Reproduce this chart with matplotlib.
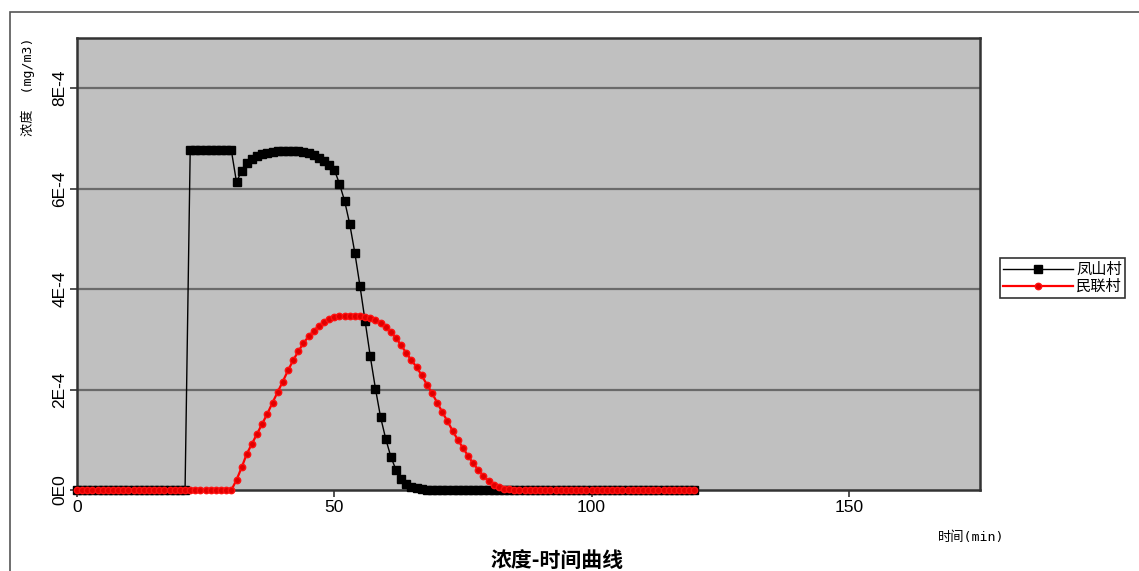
import matplotlib
matplotlib.use("Agg")
import matplotlib.pyplot as plt
from matplotlib.patches import Rectangle

plt.rcParams['font.family'] = ['Liberation Sans Narrow', 'Liberation Sans', 'Noto Sans CJK SC', 'DejaVu Sans']

# time axis, one sample per minute (0 .. 120 min)
minutes = list(range(0, 121))

# concentration at 凤山村 (units of 1E-4 mg/m3)
fengshan_e4 = (
    [0.0] * 22
    + [6.76, 6.76, 6.76, 6.76, 6.76, 6.76, 6.76, 6.76, 6.76,          # 22-30
       6.13, 6.36, 6.52, 6.60, 6.66, 6.70, 6.72, 6.74, 6.75,           # 31-39
       6.75, 6.75, 6.75, 6.75, 6.74, 6.72, 6.68, 6.62, 6.55, 6.48,     # 40-49
       6.38, 6.10, 5.76, 5.30, 4.72, 4.06, 3.36, 2.66, 2.02, 1.45,     # 50-59
       1.02, 0.66, 0.40, 0.22, 0.12, 0.06, 0.03, 0.01]                 # 60-67
    + [0.0] * 53
)

# concentration at 民联村 (units of 1E-4 mg/m3)
minlian_e4 = (
    [0.0] * 31
    + [0.20, 0.45, 0.72, 0.92, 1.12, 1.32, 1.52, 1.74, 1.95,           # 31-39
       2.16, 2.38, 2.58, 2.76, 2.92, 3.06, 3.17, 3.27, 3.35, 3.40,     # 40-49
       3.44, 3.46, 3.47, 3.47, 3.47, 3.46, 3.45, 3.42, 3.38, 3.32,     # 50-59
       3.24, 3.14, 3.03, 2.88, 2.73, 2.58, 2.45, 2.28, 2.10, 1.93,     # 60-69
       1.74, 1.55, 1.37, 1.18, 1.00, 0.84, 0.68, 0.53, 0.40, 0.28,     # 70-79
       0.18, 0.10, 0.05, 0.02, 0.01]                                   # 80-84
    + [0.0] * 36
)

series_names = ['凤山村', '民联村']
y_tick_values = [0, 2e-4, 4e-4, 6e-4, 8e-4]
y_tick_labels = ['0E0', '2E-4', '4E-4', '6E-4', '8E-4']
x_tick_values = [0, 50, 100, 150]

fengshan = [v * 1e-4 for v in fengshan_e4]
minlian = [v * 1e-4 for v in minlian_e4]

W, H = 1139, 571
fig = plt.figure(figsize=(W / 100, H / 100), dpi=100)
fig.patch.set_facecolor('white')

# outer chart frame
fig.patches.append(Rectangle((10 / W, -0.05), 1.2, 1 - 12 / H + 0.05,
                             transform=fig.transFigure, fill=False,
                             edgecolor='#555555', linewidth=1.2))

ax = fig.add_axes([77 / W, 1 - 490 / H, (980 - 77) / W, (490 - 38) / H])
ax.set_facecolor('#c0c0c0')
ax.set_xlim(0, 175.5)
ax.set_ylim(0, 9e-4)

for yv in y_tick_values[1:]:
    ax.axhline(yv, color='#6a6a6a', linewidth=1.6, zorder=1)

ax.plot(minutes, fengshan, color='black', linewidth=1.0, marker='s',
        markersize=5.2, markerfacecolor='black', markeredgecolor='black',
        label=series_names[0], zorder=3, clip_on=False)
ax.plot(minutes, minlian, color='#ff0000', linewidth=1.6, marker='o',
        markersize=4.6, markerfacecolor='#e00000', markeredgecolor='#ff1010',
        label=series_names[1], zorder=4, clip_on=False)

for s in ax.spines.values():
    s.set_color('#333333')
    s.set_linewidth(1.8)

ax.set_yticks(y_tick_values)
ax.set_yticklabels(y_tick_labels, rotation=90, va='center', fontsize=12.5)
ax.set_xticks(x_tick_values)
ax.set_xticklabels([str(v) for v in x_tick_values], fontsize=12.5)
ax.tick_params(axis='both', direction='out', length=5, width=1.2, color='#333333')
ax.tick_params(axis='y', pad=2)
ax.tick_params(axis='x', pad=2)

cjk = ['Noto Sans CJK SC', 'DejaVu Sans']
mono_cjk = ['DejaVu Sans Mono', 'Noto Sans CJK SC']
fig.text(28 / W, 1 - 37 / H, '浓度  (mg/m3)', rotation=90, ha='center', va='top',
         fontsize=9.5, family=mono_cjk)
fig.text(971 / W, 1 - 537 / H, '时间(min)', ha='center', va='center',
         fontsize=9.5, family=mono_cjk)
fig.text(557 / W, 1 - 560 / H, '浓度-时间曲线', ha='center', va='center',
         fontsize=15, fontweight='bold', family=cjk)

leg = fig.legend(loc='upper left', bbox_to_anchor=(1000 / W, 1 - 258 / H),
                 bbox_transform=fig.transFigure, frameon=True, fancybox=False,
                 edgecolor='#333333', framealpha=1,
                 prop={'family': cjk, 'size': 11}, handlelength=4.6,
                 handletextpad=0.2, labelspacing=0.0, borderpad=0.2,
                 borderaxespad=0, markerscale=1.0)
leg.get_frame().set_linewidth(1.2)

fig.savefig('out.png', dpi=100, facecolor='white')
